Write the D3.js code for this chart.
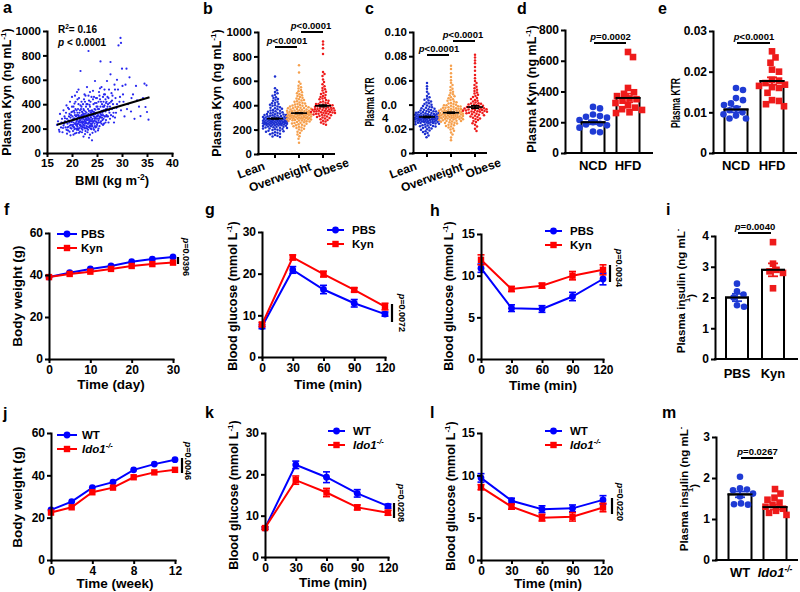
<!DOCTYPE html>
<html>
<head>
<meta charset="utf-8">
<script src="https://cdn.jsdelivr.net/npm/d3@7/dist/d3.min.js"></script>
<style>
html,body{margin:0;padding:0;background:#fff;}
svg{display:block;}
</style>
</head>
<body>
<svg id="fig" width="800" height="592" viewBox="0 0 800 592"></svg>
<script>
// ---------------- DATA ----------------
// a: BMI vs plasma Kyn
const aPoints = [[17.0,230],[17.2,260],[17.4,190],[17.6,320],[17.8,210],[18.0,280],[18.1,170],[18.3,350],[18.4,240],[18.5,300],[17.5,175],[18.2,205],
[18.6,260],[18.7,210],[18.8,330],[18.9,190],[19.0,158],[19.0,280],[19.1,240],[19.2,370],[19.3,215],[19.4,300],[19.5,175],[19.5,250],[19.6,420],[19.7,145],[19.7,290],[19.8,230],[19.9,335],[19.9,200],[20.0,265],[20.0,460],[18.9,390],[19.2,185],[19.6,225],[19.8,310],[18.8,250],
[20.1,220],[20.1,300],[20.2,180],[20.3,380],[20.3,250],[20.4,210],[20.5,330],[20.5,275],[20.6,160],[20.6,240],[20.7,420],[20.8,200],[20.8,300],[20.9,260],[20.9,350],[21.0,190],[21.0,230],[21.0,500],[20.2,275],[20.4,345],[20.7,235],[20.9,165],[20.3,215],[20.6,470],[21.0,310],
[21.1,280],[21.1,215],[21.2,360],[21.2,240],[21.3,190],[21.3,310],[21.4,260],[21.4,450],[21.5,205],[21.5,330],[21.6,270],[21.6,175],[21.7,672],[21.7,390],[21.7,230],[21.8,300],[21.8,250],[21.9,200],[21.9,420],[22.0,280],[22.0,340],[22.0,220],[21.2,290],[21.5,255],[21.8,360],[21.3,520],[21.9,310],[21.6,225],
[22.1,260],[22.1,190],[22.2,310],[22.2,400],[22.3,230],[22.3,280],[22.4,350],[22.4,210],[22.5,270],[22.5,480],[22.6,240],[22.6,320],[22.7,180],[22.7,290],[22.8,380],[22.8,250],[22.9,220],[22.9,330],[23.0,270],[23.0,540],[23.0,200],[22.2,250],[22.4,300],[22.6,420],[22.8,205],[22.3,360],[22.9,285],[22.1,330],[22.5,225],[22.7,260],
[23.1,300],[23.1,240],[23.2,360],[23.2,190],[23.3,836],[23.3,280],[23.4,250],[23.4,430],[23.5,310],[23.5,220],[23.6,270],[23.6,380],[23.7,200],[23.7,330],[23.8,260],[23.8,290],[23.9,460],[23.9,230],[24.0,104],[24.0,310],[24.0,350],[23.2,270],[23.4,210],[23.6,500],[23.8,345],[23.3,320],[23.5,260],[23.9,195],[23.1,400],[23.7,240],
[24.1,280],[24.1,220],[24.2,340],[24.3,260],[24.3,400],[24.4,300],[24.4,190],[24.5,360],[24.5,240],[24.6,590],[24.6,280],[24.7,320],[24.7,210],[24.8,450],[24.8,260],[24.9,300],[24.9,380],[25.0,230],[25.0,330],[24.2,510],[24.5,285],[24.9,250],[24.3,315],[24.7,355],[24.0,270],
[25.1,300],[25.2,360],[25.2,250],[25.3,420],[25.4,280],[25.4,330],[25.5,220],[25.5,470],[25.6,300],[25.7,751],[25.7,380],[25.8,260],[25.8,340],[25.9,540],[26.0,290],[26.0,400],[25.3,200],[25.6,440],[25.9,310],[25.1,380],
[26.1,330],[26.2,460],[26.3,280],[26.4,380],[26.5,300],[26.5,520],[26.6,350],[26.7,250],[26.8,410],[26.9,310],[27.0,590],[26.3,420],[26.8,270],[26.6,480],[27.0,360],[26.2,230],
[27.1,380],[27.2,300],[27.3,450],[27.4,520],[27.5,330],[27.7,746],[27.7,645],[27.6,280],[27.8,420],[28.0,360],[27.9,490],[27.3,250],
[28.2,400],[28.3,330],[28.5,560],[28.6,290],[28.7,450],[28.9,370],[29.0,600],[28.4,250],
[29.3,882],[29.7,943],[29.8,902],[29.5,420],[29.8,350],[30.0,691],[30.2,480],[30.5,300],[30.9,691],[30.7,560],[29.2,520],
[31.2,400],[31.5,620],[31.8,340],[32.2,480],[32.5,280],[33.0,432],[32.8,550],
[33.7,303],[34.5,568],[34.9,555],[34.7,377],[35.0,336],[35.3,273],[34.2,450],
[19.3,265],[19.5,320],[19.7,205],[19.9,255],[20.1,340],[20.2,230],[20.4,285],[20.5,195],[20.6,310],[20.8,245],[20.9,225],[21.0,270],[21.1,330],[21.2,200],[21.3,255],[21.4,300],[21.5,235],[21.6,350],[21.7,270],[21.8,215],[21.9,255],[22.0,305],[22.1,240],[22.2,210],[22.3,320],[22.4,255],[22.5,300],[22.6,200],[22.7,340],[22.8,275],[22.9,245],[23.0,310],[23.1,215],[23.2,290],[23.3,240],[23.4,345],[23.5,280],[23.6,225],[23.7,295],[23.8,215],[23.9,330],[24.0,240],[24.1,310],[24.2,255],[24.3,205],[24.4,335],[24.5,265],[24.6,220],[24.7,290],[24.8,330],[24.9,215],[25.0,280],[25.1,245],[25.2,310],[25.3,265],[25.4,360],[25.5,295],[25.6,250],[25.7,320],[25.8,290],[25.9,240],[26.0,345],[26.1,270],[26.2,310],[26.3,350],[26.4,240],[26.5,390],[26.6,300],[26.7,340],[26.8,360],[26.9,420],[27.0,300],[27.2,400],[27.4,350],[27.6,380],[27.8,310],[28.0,430],[28.2,300],[28.4,370],[28.8,330],
[20.0,380],[20.7,360],[21.3,400],[21.9,380],[22.4,440],[22.9,400],[23.3,470],[23.7,420],[24.2,440],[24.6,410],[25.0,450],[25.4,500],[25.8,420],[26.2,380],[26.7,440],[21.4,165],[22.0,170],[22.6,155],[23.1,170],[23.6,150],[24.1,165],[24.7,175],[25.2,185],[22.3,135],[23.4,125],[20.3,150],[19.1,210],[18.6,285],[18.3,225],[17.9,250],[19.4,360],[20.5,405],[21.1,440],[22.7,470],[23.5,395],[24.4,460],[25.6,530],[26.4,480],[27.1,460],[27.5,410],[28.1,470],[29.0,400],[29.6,460],[30.3,420],[31.0,360],[31.9,450],[33.4,380],[30.1,550],[28.6,520],[24.9,410]];
const aFitBMI = [17, 35.5];
const aFitKyn = [232, 457];
const aXTicks = [15,20,25,30,35,40];
const aYTicks = [0,200,400,600,800,1000];

// b / c: cohorts
const groupNames = ["Lean","Overweight","Obese"];
const bLean = [636,538,522,509,497,486,478,466,458,451,444,436,429,421,417,410,404,399,395,389,384,379,374,370,366,361,357,354,350,347,343,340,337,334,331,328,326,323,320,318,315,313,311,308,306,304,302,300,298,296,294,292,291,289,287,286,284,283,281,280,278,277,275,274,272,271,270,268,267,266,264,263,262,260,259,258,256,255,254,252,251,250,248,247,245,244,243,241,240,238,236,235,233,231,229,228,226,224,222,220,218,215,213,210,208,205,202,199,196,193,190,186,183,179,175,171,166,161,156,150,144,139,297,285,273,262,251,240,310,320,300];
const bOver = [728,668,592,575,560,548,536,525,515,506,498,490,482,475,468,461,455,449,443,438,433,428,423,418,414,410,406,402,398,394,390,387,383,380,377,374,371,368,365,362,359,357,354,352,349,347,344,342,340,338,336,334,332,330,328,326,324,322,320,318,316,314,312,310,308,306,304,302,300,298,296,294,292,290,288,286,284,282,280,278,276,274,271,269,266,263,260,257,254,251,248,244,240,236,232,228,223,218,213,207,200,192,183,172,160,145,125,92,345,335,325,315,305,295,355,365,375,285,275,385,395,310,330,350,300,320,340];
const bObese = [922,898,866,820,672,655,640,610,590,572,556,542,530,520,510,500,492,484,476,468,461,454,448,442,436,430,425,420,415,410,405,400,396,392,388,384,380,376,372,369,366,363,360,357,354,351,348,345,342,339,336,333,330,327,324,321,318,315,311,307,303,299,295,290,285,279,273,266,258,248,240,380,370,360,350,340,330,390,400,410,365,355,345];
const bMeans = [290, 335, 395];
const bSems = [4, 4, 8];
const bYTicks = [0,200,400,600,800,1000];

const cLean = [0.0578,0.0552,0.0531,0.0507,0.0489,0.0472,0.0461,0.0450,0.0441,0.0433,0.0425,0.0418,0.0411,0.0405,0.0399,0.0393,0.0388,0.0383,0.0378,0.0374,0.0370,0.0366,0.0362,0.0358,0.0355,0.0351,0.0348,0.0345,0.0342,0.0339,0.0336,0.0333,0.0331,0.0328,0.0326,0.0323,0.0321,0.0318,0.0316,0.0314,0.0311,0.0309,0.0307,0.0305,0.0303,0.0301,0.0299,0.0297,0.0295,0.0293,0.0291,0.0289,0.0287,0.0285,0.0283,0.0281,0.0279,0.0277,0.0275,0.0273,0.0271,0.0269,0.0267,0.0265,0.0263,0.0261,0.0259,0.0257,0.0255,0.0253,0.0250,0.0248,0.0246,0.0243,0.0241,0.0238,0.0236,0.0233,0.0230,0.0227,0.0224,0.0221,0.0218,0.0214,0.0210,0.0206,0.0202,0.0197,0.0192,0.0186,0.0180,0.0173,0.0165,0.0156,0.0145,0.0131,0.0304,0.0296,0.0288,0.0280,0.0272,0.0264,0.0312,0.0320,0.0256,0.0248,0.0330,0.0340,0.0284,0.0292,0.0300,0.0276,0.0268,0.0308,0.0316,0.0260];
const cOver = [0.0722,0.0695,0.0660,0.0628,0.0602,0.0580,0.0562,0.0546,0.0532,0.0519,0.0507,0.0496,0.0486,0.0477,0.0468,0.0460,0.0452,0.0445,0.0438,0.0432,0.0426,0.0420,0.0414,0.0409,0.0404,0.0399,0.0394,0.0390,0.0386,0.0382,0.0378,0.0374,0.0370,0.0366,0.0363,0.0360,0.0357,0.0354,0.0351,0.0348,0.0345,0.0342,0.0339,0.0336,0.0334,0.0331,0.0329,0.0326,0.0324,0.0321,0.0319,0.0316,0.0314,0.0312,0.0309,0.0307,0.0305,0.0302,0.0300,0.0298,0.0295,0.0293,0.0291,0.0288,0.0286,0.0283,0.0281,0.0278,0.0276,0.0273,0.0270,0.0267,0.0264,0.0261,0.0258,0.0254,0.0251,0.0247,0.0243,0.0239,0.0234,0.0229,0.0224,0.0218,0.0211,0.0203,0.0194,0.0183,0.0170,0.0152,0.0128,0.0105,0.0335,0.0325,0.0315,0.0305,0.0295,0.0345,0.0355,0.0365,0.0285,0.0275,0.0340,0.0320,0.0310,0.0350,0.0300,0.0290,0.0330,0.0360,0.0375,0.0385,0.0265,0.0395];
const cObese = [0.0812,0.0790,0.0765,0.0742,0.0710,0.0680,0.0645,0.0618,0.0596,0.0578,0.0562,0.0548,0.0535,0.0523,0.0512,0.0501,0.0491,0.0481,0.0472,0.0463,0.0455,0.0447,0.0439,0.0432,0.0425,0.0418,0.0412,0.0406,0.0400,0.0395,0.0390,0.0385,0.0380,0.0376,0.0372,0.0368,0.0364,0.0360,0.0356,0.0352,0.0348,0.0344,0.0340,0.0336,0.0332,0.0328,0.0324,0.0320,0.0316,0.0312,0.0307,0.0302,0.0297,0.0292,0.0286,0.0280,0.0273,0.0265,0.0256,0.0246,0.0234,0.0220,0.0200,0.0182,0.0370,0.0360,0.0350,0.0340,0.0330,0.0380,0.0390,0.0400,0.0410,0.0362,0.0345,0.0355,0.0375];
const cMeans = [0.0298, 0.0333, 0.0380];
const cSems = [0.0006, 0.0006, 0.0012];
const cYTicks = [0,0.02,0.04,0.06,0.08,0.10];
const cYLabels = ["0","0.02","0.0\n4","0.06","0.08","0.10"];

// d / e: NCD vs HFD mice
const dietCats = ["NCD","HFD"];
const dNCD = [300,290,250,240,235,230,215,200,190,185,180,165,140,135];
const dHFD = [657,624,423,395,385,370,355,350,340,325,310,295,285,280,265,260];
const dMeans = [200, 358];
const dSems = [13, 28];
const dYTicks = [0,200,400,600,800];
const eNCD = [0.0160,0.0155,0.0135,0.0130,0.0122,0.0118,0.0110,0.0105,0.0100,0.0095,0.0092,0.0085,0.0085];
const eHFD = [0.0250,0.0235,0.0222,0.0205,0.0200,0.0180,0.0178,0.0172,0.0168,0.0165,0.0162,0.0160,0.0148,0.0130,0.0128,0.0120,0.0115];
const eMeans = [0.0107, 0.0177];
const eSems = [0.0007, 0.0009];
const eYTicks = [0,0.01,0.02,0.03];
const eYLabels = ["0","0.01","0.02","0.03"];

// f-i: PBS vs Kyn
const fDays = [0,5,10,15,20,25,30];
const fPBS = [39.0,41.1,42.9,44.3,46.3,47.6,48.6];
const fKyn = [39.0,40.5,41.6,42.9,44.3,45.2,45.9];
const gTime = [0,30,60,90,120];
const gPBS = [7.3,20.9,16.2,12.9,10.3];
const gPBSErr = [0.5,0.8,1.0,0.9,0.5];
const gKyn = [7.8,23.9,19.9,16.1,12.1];
const gKynErr = [0.5,0.6,0.7,0.5,0.8];
const hPBS = [10.9,6.1,6.0,7.5,9.6];
const hPBSErr = [0.5,0.4,0.4,0.5,0.7];
const hKyn = [11.9,8.4,8.8,10.0,10.7];
const hKynErr = [0.6,0.3,0.3,0.5,0.6];
const treatCats = ["PBS","Kyn"];
const iPBS = [2.45,2.2,2.1,2.0,1.75,1.7];
const iKyn = [3.8,3.1,2.9,2.85,2.8,2.3];
const iMeans = [2.0, 2.9];
const iSems = [0.12, 0.21];

// j-m: WT vs Ido1-/-
const jWeeks = [0,2,4,6,8,10,12];
const jWT = [23.7,27.6,34.2,36.8,42.6,45.3,47.4];
const jIdo = [22.4,24.9,32.0,34.2,39.1,41.4,42.6];
const kWT = [7.0,22.3,19.3,15.4,12.3];
const kWTErr = [0.3,0.9,1.3,0.9,0.5];
const kIdo = [7.0,18.6,15.6,12.0,10.7];
const kIdoErr = [0.3,1.0,1.0,0.6,0.6];
const lWT = [9.7,7.0,6.0,6.1,7.1];
const lWTErr = [0.5,0.3,0.4,0.4,0.5];
const lIdo = [8.6,6.3,5.0,5.1,6.2];
const lIdoErr = [0.3,0.3,0.4,0.5,0.5];
const genoCats = ["WT","Ido1"];
const mWT = [2.03,1.75,1.72,1.70,1.62,1.55,1.38,1.36,1.35];
const mIdo = [1.73,1.62,1.52,1.47,1.40,1.35,1.30,1.25,1.20,1.15,1.10];
const mMeans = [1.60, 1.29];
const mSems = [0.07, 0.06];

// ---------------- DRAWING ----------------
const svg = d3.select("#fig");
const F = '"Liberation Sans", Arial, Helvetica, sans-serif';
const BLUE = "#0000ff", RED = "#ff0000";
const DBLUE = "#1f3bd4", DRED = "#ee1b1b", ORANGE = "#f6a04d", LEANC = "#1c2fcf", ADOT = "#2727f0";

svg.append("rect").attr("width",800).attr("height",592).attr("fill","#fff");

function addParts(t, parts, fs) {
  if (typeof parts === "string") parts = [{t: parts}];
  let cur = 0;
  parts.forEach(p => {
    const want = p.sup ? -fs * 0.42 : 0;
    const ts = t.append("tspan").text(p.t);
    if (want !== cur) ts.attr("dy", want - cur);
    cur = want;
    if (p.sup) ts.attr("font-size", fs * 0.65);
    if (p.it) ts.attr("font-style", "italic");
  });
}
function txt(x, y, parts, o = {}) {
  const fs = o.fs || 13;
  const t = svg.append("text").attr("x", x).attr("y", y)
    .attr("font-family", F).attr("font-weight", o.weight || "bold").attr("font-size", fs)
    .attr("fill", "#000").attr("text-anchor", o.anchor || "start");
  if (o.rotate) t.attr("transform", `rotate(${o.rotate},${x},${y})`);
  addParts(t, parts, fs);
  return t;
}
function styleAxis(g, fs) {
  g.attr("font-family", F).attr("font-size", fs).attr("font-weight", "bold");
  g.select(".domain").attr("stroke", "#000").attr("stroke-width", 2).attr("stroke-linecap", "square");
  g.selectAll(".tick line").attr("stroke", "#000").attr("stroke-width", 2);
  g.selectAll(".tick text").attr("fill", "#000");
}
function leftAxis(x, y, ticks, fs, labels) {
  const a = d3.axisLeft(y).tickValues(ticks).tickSize(4).tickSizeOuter(0).tickPadding(2);
  a.tickFormat((d, i) => labels ? labels[i] : String(d));
  const g = svg.append("g").attr("transform", `translate(${x},0)`).call(a);
  styleAxis(g, fs);
  return g;
}
function bottomAxis(yPos, x, ticks, fs) {
  const a = d3.axisBottom(x).tickValues(ticks).tickSize(4).tickSizeOuter(0).tickPadding(2).tickFormat(d => String(d));
  const g = svg.append("g").attr("transform", `translate(0,${yPos})`).call(a);
  styleAxis(g, fs);
  return g;
}
function hline(x1, x2, y, w = 2, c = "#000") {
  svg.append("line").attr("x1", x1).attr("x2", x2).attr("y1", y).attr("y2", y).attr("stroke", c).attr("stroke-width", w);
}
function vline(x, y1, y2, w = 2, c = "#000") {
  svg.append("line").attr("x1", x).attr("x2", x).attr("y1", y1).attr("y2", y2).attr("stroke", c).attr("stroke-width", w);
}
function marker(x, y, shape, color, size) {
  if (shape === "circle") svg.append("circle").attr("cx", x).attr("cy", y).attr("r", size / 2).attr("fill", color);
  else svg.append("rect").attr("x", x - size / 2).attr("y", y - size / 2).attr("width", size).attr("height", size).attr("fill", color);
}
function swarm(vals, y, cx, d, maxHalf) {
  const pts = vals.map(v => ({v, y: y(v)})).sort((a, b) => a.y - b.y);
  const placed = [];
  const cands = [0];
  for (let o = 0.5; o <= maxHalf; o += 0.5) cands.push(o, -o);
  pts.forEach(p => {
    let bestOff = 0, bestScore = -Infinity;
    for (const o of cands) {
      let minD = Infinity;
      for (const q of placed) {
        const dy = q.y - p.y;
        if (Math.abs(dy) >= d) continue;
        const dx = q.x - (cx + o);
        const dd = Math.sqrt(dx * dx + dy * dy);
        if (dd < minD) minD = dd;
      }
      if (minD >= d) { bestOff = o; break; }
      if (minD > bestScore) { bestScore = minD; bestOff = o; }
    }
    p.x = cx + bestOff;
    placed.push(p);
  });
  return pts;
}
function panelLabel(x, y, s) { txt(x, y, s, {fs: 16}); }
function pText(v, rel) { return [{t: "p", it: true}, {t: rel + v}]; }

// ---------- a ----------
{
  const x = d3.scaleLinear().domain([15, 40]).range([47, 172]);
  const y = d3.scaleLinear().domain([0, 1000]).range([153, 31]);
  aPoints.forEach(p => svg.append("circle").attr("cx", x(p[0])).attr("cy", y(p[1])).attr("r", 1.1).attr("fill", ADOT));
  svg.append("line").attr("x1", x(aFitBMI[0])).attr("y1", y(aFitKyn[0])).attr("x2", x(aFitBMI[1])).attr("y2", y(aFitKyn[1]))
    .attr("stroke", "#000").attr("stroke-width", 2.2);
  leftAxis(47, y, aYTicks, 11.5);
  bottomAxis(153, x, aXTicks, 11.5);
  txt(58, 33, [{t: "R"}, {t: "2", sup: true}, {t: "= 0.16"}], {fs: 10});
  txt(58, 46, [{t: "p", it: true}, {t: " < 0.0001"}], {fs: 10});
  txt(11, 92, [{t: "Plasma Kyn (ng mL"}, {t: "-1", sup: true}, {t: ")"}], {fs: 12.5, anchor: "middle", rotate: -90});
  txt(112, 185, [{t: "BMI (kg m"}, {t: "-2", sup: true}, {t: ")"}], {fs: 13, anchor: "middle"});
  panelLabel(3, 13, "a");
}

// ---------- b & c (swarm) ----------
function swarmPanel(o) {
  const x = d3.scalePoint().domain(groupNames).range(o.cats);
  const colors = [LEANC, ORANGE, DRED];
  o.groups.forEach((vals, i) => {
    swarm(vals, o.y, x(groupNames[i]), 2.5, 12).forEach(p =>
      svg.append("circle").attr("cx", p.x).attr("cy", p.y).attr("r", 1.25).attr("fill", colors[i]));
  });
  o.means.forEach((m, i) => {
    const cx = x(groupNames[i]);
    hline(cx - 8, cx + 8, o.y(m), 1.6);
    vline(cx, o.y(m + o.sems[i]), o.y(m - o.sems[i]), 1.2);
    hline(cx - 4, cx + 4, o.y(m + o.sems[i]), 1.2);
    hline(cx - 4, cx + 4, o.y(m - o.sems[i]), 1.2);
  });
  const g = leftAxis(o.ax, o.y, o.ticks, 11.5, o.labels);
  hline(o.ax - 1, o.end, o.y(0), 2);
  const dxs = [-24, -19, 8], dys = [170, 177, 168];
  groupNames.forEach((n, i) => {
    const cx = x(n);
    vline(cx, o.y(0), o.y(0) + 4, 2);
    txt(cx + dxs[i], dys[i], n, {fs: 12, anchor: "middle", rotate: -20}).attr("dy", "0.35em");
  });
  hline(x(groupNames[0]), x(groupNames[1]) - 2, o.sig1, 2);
  txt((x(groupNames[0]) + x(groupNames[1])) / 2, o.sig1 - 3, pText("0.0001", "<"), {fs: 9.5, anchor: "middle"});
  hline(x(groupNames[1]) + 2, x(groupNames[2]), o.sig2, 2);
  txt((x(groupNames[1]) + x(groupNames[2])) / 2, o.sig2 - 3, pText("0.0001", "<"), {fs: 9.5, anchor: "middle"});
  return g;
}
{
  const y = d3.scaleLinear().domain([0, 1000]).range([154, 32]);
  swarmPanel({y, ax: 258, cats: [275, 323], end: 335, groups: [bLean, bOver, bObese], means: bMeans, sems: bSems,
    ticks: bYTicks, labels: null, sig1: 47, sig2: 32});
  txt(221, 93, [{t: "Plasma Kyn (ng mL"}, {t: "-1", sup: true}, {t: ")"}], {fs: 12.5, anchor: "middle", rotate: -90});
  panelLabel(203, 14, "b");
}
{
  const y = d3.scaleLinear().domain([0, 0.1]).range([153, 32]);
  const g = swarmPanel({y, ax: 413, cats: [427, 475], end: 487, groups: [cLean, cOver, cObese], means: cMeans, sems: cSems,
    ticks: cYTicks, labels: cYLabels, sig1: 55, sig2: 41});
  g.selectAll(".tick text").filter(d => d === 0.04).each(function () {
    const t = d3.select(this);
    const parts = t.text().split("\n");
    t.text(null).attr("text-anchor", "start");
    t.append("tspan").attr("x", -32).text(parts[0]);
    t.append("tspan").attr("x", -31).attr("dy", 13).text(parts[1]);
  });
  txt(374, 102, "Plasma KTR", {fs: 12.5, anchor: "middle", rotate: -90}).attr("textLength", 49).attr("lengthAdjust", "spacingAndGlyphs");
  panelLabel(365, 14, "c");
}

// ---------- bar panels ----------
function barPanel(o) {
  const x = d3.scalePoint().domain(o.cats).range(o.centers);
  leftAxis(o.ax, o.y, o.ticks, 12, o.tickLabels);
  hline(o.ax - 1, o.end, o.y(0), 2);
  const shapes = ["circle", "square"], colors = [DBLUE, DRED];
  o.cats.forEach((c, i) => {
    const cx = x(c), m = o.means[i], s = o.sems[i];
    svg.append("rect").attr("x", cx - o.bw / 2).attr("y", o.y(m)).attr("width", o.bw).attr("height", o.y(0) - o.y(m))
      .attr("fill", "#fff").attr("stroke", "#000").attr("stroke-width", 2);
    swarm(o.vals[i], o.y, cx, 7, 14).forEach(p => marker(p.x, p.y, shapes[i], colors[i], 6.6));
    vline(cx, o.y(m + s), o.y(m - s), 1.8, colors[i]);
    hline(cx - 5, cx + 5, o.y(m + s), 1.8, colors[i]);
    hline(cx - 5, cx + 5, o.y(m - s), 1.8, colors[i]);
    hline(cx - o.bw / 2 - 1, cx + o.bw / 2 + 1, o.y(m), 2, "#000");
    txt(cx, o.labelY, o.labels[i], {fs: 13, anchor: "middle"});
  });
  hline(x(o.cats[0]) + 1, x(o.cats[1]) - 2, o.sigY, 2);
  txt((x(o.cats[0]) + x(o.cats[1])) / 2, o.sigY - 3, o.sigText, {fs: 9.5, anchor: "middle"});
}
{
  const y = d3.scaleLinear().domain([0, 800]).range([153, 30]);
  barPanel({y, ax: 565, centers: [593, 628], end: 653, bw: 23, cats: dietCats, labels: dietCats, labelY: 170,
    vals: [dNCD, dHFD], means: dMeans, sems: dSems, ticks: dYTicks, tickLabels: null, sigY: 43, sigText: pText("0.0002", "=")});
  txt(536, 89, [{t: "Plasma Kyn (ng mL"}, {t: "-1", sup: true}, {t: ")"}], {fs: 12.5, anchor: "middle", rotate: -90});
  panelLabel(517, 14, "d");
}
{
  const y = d3.scaleLinear().domain([0, 0.03]).range([153, 31]);
  barPanel({y, ax: 713, centers: [736, 772], end: 797, bw: 23, cats: dietCats, labels: dietCats, labelY: 170,
    vals: [eNCD, eHFD], means: eMeans, sems: eSems, ticks: eYTicks, tickLabels: eYLabels, sigY: 43, sigText: pText("0.0001", "<")});
  txt(680, 103, "Plasma KTR", {fs: 12.5, anchor: "middle", rotate: -90}).attr("textLength", 50).attr("lengthAdjust", "spacingAndGlyphs");
  panelLabel(658, 14, "e");
}

// ---------- line panels ----------
function linePanel(o) {
  const line = d3.line().x((d, i) => o.x(o.t[i])).y(d => o.y(d));
  o.series.forEach(s => {
    svg.append("path").attr("d", line(s.v)).attr("fill", "none").attr("stroke", s.c).attr("stroke-width", 2);
    if (s.e) s.v.forEach((v, i) => {
      const xx = o.x(o.t[i]);
      vline(xx, o.y(v + s.e[i]), o.y(v - s.e[i]), 1.6, s.c);
      hline(xx - 3.5, xx + 3.5, o.y(v + s.e[i]), 1.6, s.c);
      hline(xx - 3.5, xx + 3.5, o.y(v - s.e[i]), 1.6, s.c);
    });
    s.v.forEach((v, i) => marker(o.x(o.t[i]), o.y(v), s.shape, s.c, s.shape === "circle" ? 6.8 : 6.4));
  });
  leftAxis(o.x.range()[0], o.y, o.yTicks, 12);
  bottomAxis(o.y.range()[0], o.x, o.xTicks, 12);
  const L = o.legend;
  o.series.forEach((s, k) => {
    const ly = L.y[k];
    hline(L.x1, L.x2, ly, 2, s.c);
    marker((L.x1 + L.x2) / 2, ly, s.shape, s.c, s.shape === "circle" ? 6.8 : 6.4);
    txt(L.tx, ly + 4, s.label, {fs: 11.5});
  });
  vline(o.sig.x, o.sig.y1, o.sig.y2, 2.2);
  txt(o.sig.tx, o.sig.ty, pText(o.sig.p, "="), {fs: 9, anchor: "middle", rotate: 90});
}
const idoLabel = [{t: "Ido1", it: true}, {t: "-/-", sup: true, it: true}];
const glucTitle = [{t: "Blood glucose (mmol L"}, {t: "-1", sup: true}, {t: ")"}];

// f
{
  const x = d3.scaleLinear().domain([0, 30]).range([49, 173]);
  const y = d3.scaleLinear().domain([0, 60]).range([359, 233]);
  linePanel({x, y, t: fDays, xTicks: [0, 10, 20, 30], yTicks: [0, 20, 40, 60],
    series: [{v: fPBS, c: BLUE, shape: "circle", label: "PBS"}, {v: fKyn, c: RED, shape: "square", label: "Kyn"}],
    legend: {x1: 57, x2: 77, tx: 81, y: [234, 248]},
    sig: {x: 178, y1: 257, y2: 264, tx: 183, ty: 257, p: "0.0396"}});
  txt(22, 296, "Body weight (g)", {fs: 13.5, anchor: "middle", rotate: -90});
  txt(111, 389, "Time (day)", {fs: 13.5, anchor: "middle"});
  panelLabel(4, 215, "f");
}
// g
{
  const x = d3.scaleLinear().domain([0, 120]).range([262, 385]);
  const y = d3.scaleLinear().domain([0, 30]).range([357, 232]);
  linePanel({x, y, t: gTime, xTicks: [0, 30, 60, 90, 120], yTicks: [0, 10, 20, 30],
    series: [{v: gPBS, e: gPBSErr, c: BLUE, shape: "circle", label: "PBS"}, {v: gKyn, e: gKynErr, c: RED, shape: "square", label: "Kyn"}],
    legend: {x1: 327, x2: 344, tx: 352, y: [230, 244]},
    sig: {x: 392, y1: 304, y2: 322, tx: 399, ty: 313, p: "0.0072"}});
  txt(237, 296, glucTitle, {fs: 12.5, anchor: "middle", rotate: -90});
  txt(328, 389, "Time (min)", {fs: 13.5, anchor: "middle"});
  panelLabel(205, 215, "g");
}
// h
{
  const x = d3.scaleLinear().domain([0, 120]).range([481, 603]);
  const y = d3.scaleLinear().domain([0, 15]).range([359, 234]);
  linePanel({x, y, t: gTime, xTicks: [0, 30, 60, 90, 120], yTicks: [0, 5, 10, 15],
    series: [{v: hPBS, e: hPBSErr, c: BLUE, shape: "circle", label: "PBS"}, {v: hKyn, e: hKynErr, c: RED, shape: "square", label: "Kyn"}],
    legend: {x1: 545, x2: 562, tx: 570, y: [231, 245]},
    sig: {x: 610, y1: 265, y2: 282, tx: 616, ty: 268, p: "0.0034"}});
  txt(453, 296, glucTitle, {fs: 12.5, anchor: "middle", rotate: -90});
  txt(543, 390, "Time (min)", {fs: 13.5, anchor: "middle"});
  panelLabel(430, 216, "h");
}
// i
{
  const y = d3.scaleLinear().domain([0, 4]).range([359, 236]);
  barPanel({y, ax: 715, centers: [737, 773], end: 798, bw: 22, cats: treatCats, labels: treatCats, labelY: 378,
    vals: [iPBS, iKyn], means: iMeans, sems: iSems, ticks: [0, 1, 2, 3, 4], tickLabels: null, sigY: 233, sigText: pText("0.0040", "=")});
  txt(685, 291, [{t: "Plasma insulin (ng mL"}, {t: "-", sup: true}], {fs: 11.5, anchor: "middle", rotate: -90});
  txt(695, 298, [{t: "1", sup: true}, {t: ")"}], {fs: 11.5, anchor: "middle", rotate: -90});
  panelLabel(666, 215, "i");
}
// j
{
  const x = d3.scaleLinear().domain([0, 12]).range([51, 175]);
  const y = d3.scaleLinear().domain([0, 60]).range([560, 433]);
  linePanel({x, y, t: jWeeks, xTicks: [0, 4, 8, 12], yTicks: [0, 20, 40, 60],
    series: [{v: jWT, c: BLUE, shape: "circle", label: "WT"}, {v: jIdo, c: RED, shape: "square", label: idoLabel}],
    legend: {x1: 57, x2: 77, tx: 82, y: [435, 449]},
    sig: {x: 182, y1: 458, y2: 473, tx: 185, ty: 461, p: "0.0046"}});
  txt(22, 497, "Body weight (g)", {fs: 13.5, anchor: "middle", rotate: -90});
  txt(115, 588, "Time (week)", {fs: 13.5, anchor: "middle"});
  panelLabel(3, 419, "j");
}
// k
{
  const x = d3.scaleLinear().domain([0, 120]).range([265, 388]);
  const y = d3.scaleLinear().domain([0, 30]).range([557, 433]);
  linePanel({x, y, t: gTime, xTicks: [0, 30, 60, 90, 120], yTicks: [0, 10, 20, 30],
    series: [{v: kWT, e: kWTErr, c: BLUE, shape: "circle", label: "WT"}, {v: kIdo, e: kIdoErr, c: RED, shape: "square", label: idoLabel}],
    legend: {x1: 328, x2: 345, tx: 353, y: [431, 445]},
    sig: {x: 394, y1: 503, y2: 518, tx: 398, ty: 503, p: "0.0208"}});
  txt(238, 495, glucTitle, {fs: 12.5, anchor: "middle", rotate: -90});
  txt(333, 587, "Time (min)", {fs: 13.5, anchor: "middle"});
  panelLabel(205, 418, "k");
}
// l
{
  const x = d3.scaleLinear().domain([0, 120]).range([481, 603]);
  const y = d3.scaleLinear().domain([0, 15]).range([560, 433]);
  linePanel({x, y, t: gTime, xTicks: [0, 30, 60, 90, 120], yTicks: [0, 5, 10, 15],
    series: [{v: lWT, e: lWTErr, c: BLUE, shape: "circle", label: "WT"}, {v: lIdo, e: lIdoErr, c: RED, shape: "square", label: idoLabel}],
    legend: {x1: 545, x2: 562, tx: 570, y: [431, 445]},
    sig: {x: 612, y1: 498, y2: 514, tx: 617, ty: 502, p: "0.0220"}});
  txt(455, 496, glucTitle, {fs: 12.5, anchor: "middle", rotate: -90});
  txt(548, 588, "Time (min)", {fs: 13.5, anchor: "middle"});
  panelLabel(430, 418, "l");
}
// m
{
  const y = d3.scaleLinear().domain([0, 3]).range([560, 437]);
  barPanel({y, ax: 716, centers: [740, 775], end: 798, bw: 23, cats: genoCats, labels: ["WT", idoLabel], labelY: 577,
    vals: [mWT, mIdo], means: mMeans, sems: mSems, ticks: [0, 1, 2, 3], tickLabels: null, sigY: 458, sigText: pText("0.0267", "=")});
  txt(688, 489, [{t: "Plasma insulin (ng mL"}, {t: "-", sup: true}], {fs: 11.5, anchor: "middle", rotate: -90});
  txt(698, 488, [{t: "1", sup: true}, {t: ")"}], {fs: 11.5, anchor: "middle", rotate: -90});
  panelLabel(662, 418, "m");
}
</script>
</body>
</html>
